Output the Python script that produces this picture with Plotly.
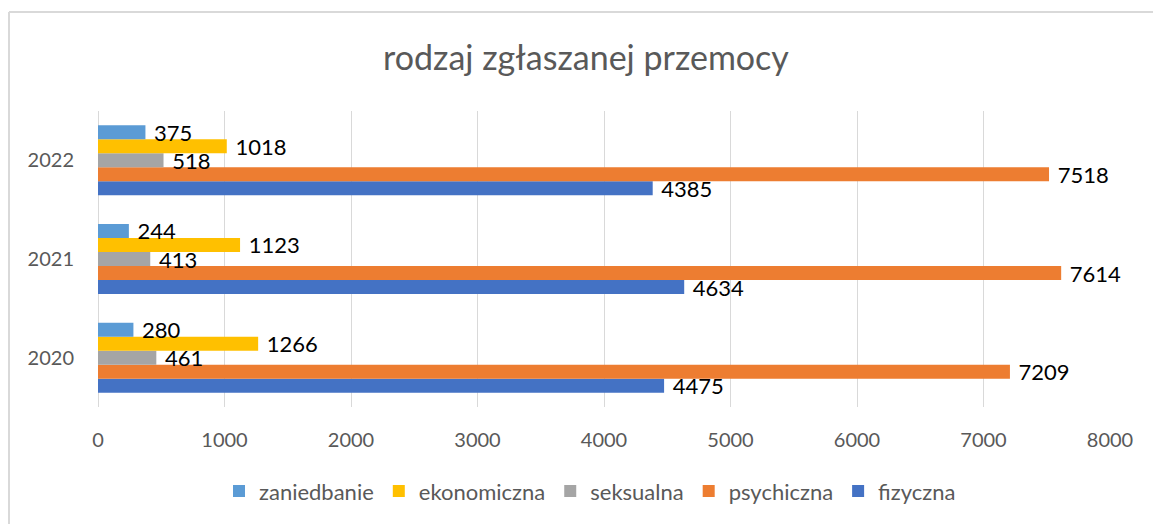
import plotly.graph_objects as go

years = ["2020", "2021", "2022"]
fizyczna = [4475, 4634, 4385]
psychiczna = [7209, 7614, 7518]
seksualna = [461, 413, 518]
ekonomiczna = [1266, 1123, 1018]
zaniedbanie = [280, 244, 375]
x_ticks = [0, 1000, 2000, 3000, 4000, 5000, 6000, 7000, 8000]

series = [
    ("fizyczna", fizyczna, "#4472C4"),
    ("psychiczna", psychiczna, "#ED7D31"),
    ("seksualna", seksualna, "#A5A5A5"),
    ("ekonomiczna", ekonomiczna, "#FFC000"),
    ("zaniedbanie", zaniedbanie, "#5B9BD5"),
]

FONT = "Lato, 'Open Sans', sans-serif"

fig = go.Figure()
for name, vals, col in series:
    fig.add_trace(go.Bar(
        name=name, y=years, x=vals, orientation="h",
        marker=dict(color=col, line=dict(width=0)),
        text=vals, texttemplate="\u00a0%{x}", textposition="outside",
        textfont=dict(color="#000000", size=22, family=FONT),
        constraintext="none", cliponaxis=False,
    ))

W, H = 1153, 524
L, T = 98, 111
R = W - 1110
B = H - 410
pw, ph = W - L - R, H - T - B

def px_x(px):
    return (px - L) / pw

def px_y(py):
    return (H - B - py) / ph

fig.update_layout(
    width=W, height=H,
    margin=dict(l=L, r=R, t=T, b=B),
    paper_bgcolor="white", plot_bgcolor="white",
    barmode="group", bargap=0.29, bargroupgap=0,
    font=dict(family=FONT, color="#595959"),
    title=dict(text="rodzaj zgłaszanej przemocy", font=dict(size=34, color="#595959", family=FONT),
               x=586 / W, xanchor="center", y=1 - 58 / H, yanchor="middle"),
    xaxis=dict(range=[0, 8000], tickvals=x_ticks, showgrid=True, gridcolor="#D9D9D9", gridwidth=1,
               zeroline=True, zerolinecolor="#D9D9D9", zerolinewidth=1, showline=False,
               tickfont=dict(size=20, color="#595959"), ticklabelstandoff=19, fixedrange=True),
    yaxis=dict(categoryorder="array", categoryarray=years, showgrid=False, showline=False,
               tickfont=dict(size=20, color="#595959"), ticklabelstandoff=23, fixedrange=True),
    legend=dict(orientation="h", traceorder="reversed", x=px_x(590), xanchor="center",
                y=px_y(495), yanchor="middle", font=dict(size=22, color="#595959"),
                itemwidth=30),
    showlegend=True,
    shapes=[
        dict(type="line", xref="paper", yref="paper", x0=px_x(9), x1=px_x(9),
             y0=px_y(11), y1=px_y(600), line=dict(color="#D9D9D9", width=2)),
        dict(type="line", xref="paper", yref="paper", x0=px_x(9), x1=px_x(1300),
             y0=px_y(11), y1=px_y(11), line=dict(color="#D9D9D9", width=2)),
    ],
)

fig.write_html(
    "out.html",
    config={"displayModeBar": False},
    post_script="document.body.style.margin='0';document.documentElement.style.overflow='hidden';",
)
